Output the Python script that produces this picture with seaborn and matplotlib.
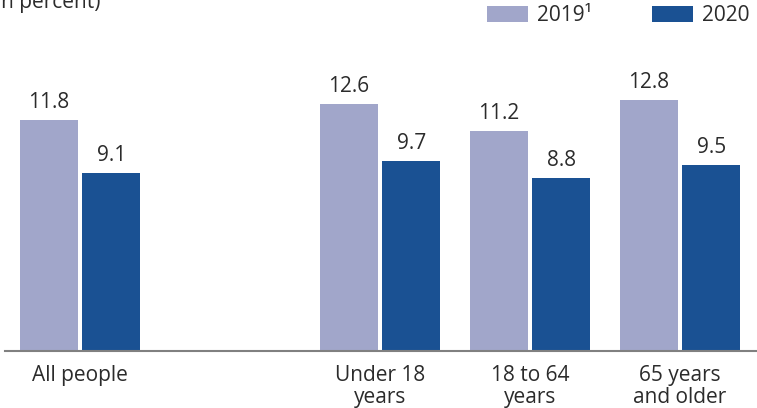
import pandas as pd
import matplotlib.pyplot as plt
import seaborn as sns

groups = ["All people", "", "Under 18\nyears", "18 to 64\nyears", "65 years\nand older"]
data_groups = ["All people", "Under 18\nyears", "18 to 64\nyears", "65 years\nand older"]
years = ["2019¹", "2020"]
values_2019 = [11.8, 12.6, 11.2, 12.8]
values_2020 = [9.1, 9.7, 8.8, 9.5]

df = pd.DataFrame({
    "group": data_groups * 2,
    "year": [years[0]] * 4 + [years[1]] * 4,
    "value": values_2019 + values_2020,
})

sns.set_style("white")
plt.rcParams["font.family"] = ["Open Sans", "DejaVu Sans"]
text_color = "#2b2b2b"
fs = 15

fig = plt.figure(figsize=(7.57, 4.08), dpi=100)
ax = fig.add_axes([5 / 757, 57 / 408, 752 / 757, 351 / 408])

palette = {years[0]: "#a1a6ca", years[1]: "#1a5193"}
sns.barplot(data=df, x="group", y="value", hue="year", order=groups,
            hue_order=years, palette=palette, width=0.83, gap=0.06,
            saturation=1, linewidth=0, ax=ax)

for c in ax.containers:
    ax.bar_label(c, fmt="%.1f", padding=5, fontsize=fs, color=text_color)

ax.set_xlim(-0.5, 4.513)
ax.set_ylim(0, 17.9)
ax.set_xlabel("")
ax.set_ylabel("")
ax.set_yticks([])
ax.tick_params(axis="x", length=0, pad=10, labelsize=fs, labelcolor=text_color)
for lbl in ax.get_xticklabels():
    lbl.set_linespacing(1.05)
for s in ["top", "left", "right"]:
    ax.spines[s].set_visible(False)
ax.spines["bottom"].set_color("#808080")
ax.spines["bottom"].set_linewidth(1.5)

handles, labels = ax.get_legend_handles_labels()
ax.legend(handles, labels, ncol=2, frameon=False, loc="upper right",
          bbox_to_anchor=(755 / 757, 1.0), bbox_transform=fig.transFigure,
          fontsize=fs, handlelength=1.95, handleheight=0.85,
          handletextpad=0.45, columnspacing=2.9, borderpad=0.25, borderaxespad=0,
          labelcolor=text_color)

fig.text(100 / 757, 1 - 8 / 408, "(In percent)", ha="right", va="baseline",
         fontsize=fs, color=text_color)

fig.savefig("out.png", dpi=100)
